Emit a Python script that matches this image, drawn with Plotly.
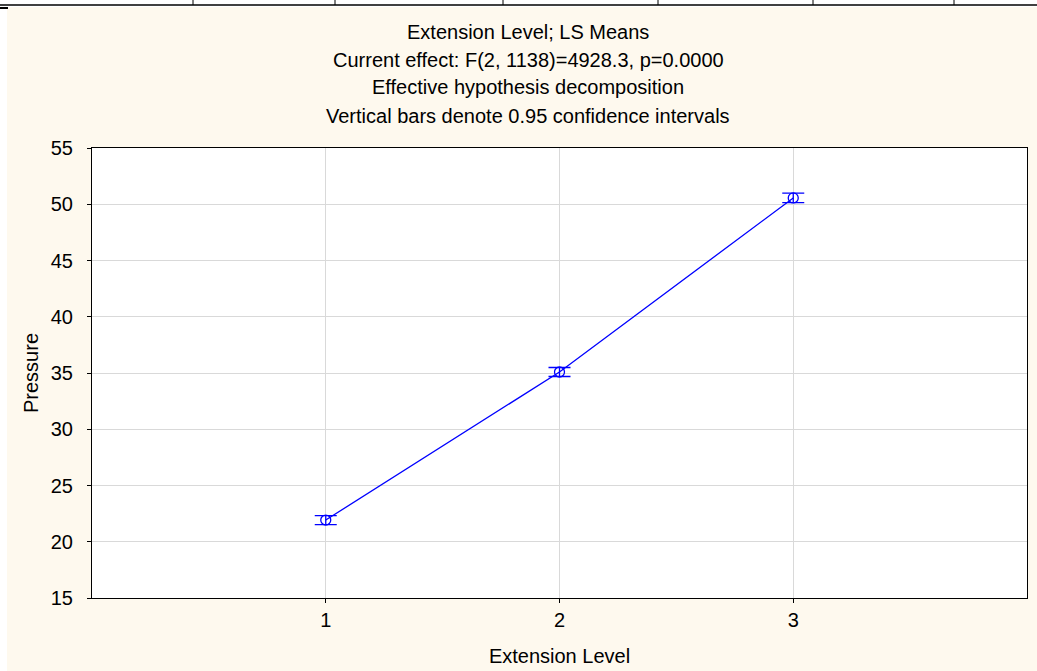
import plotly.graph_objects as go

levels = [1, 2, 3]
means = [21.93, 35.09, 50.56]
ci = [0.40, 0.40, 0.42]
titles = ["Extension Level; LS Means",
          "Current effect: F(2, 1138)=4928.3, p=0.0000",
          "Effective hypothesis decomposition",
          "Vertical bars denote 0.95 confidence intervals"]
y_ticks = [15, 20, 25, 30, 35, 40, 45, 50, 55]

FONT = "Liberation Sans"
FS = 20
L, R, T, B = 92, 10, 148, 73
W, H = 1037, 671
pw, ph = W - L - R, H - T - B

def px(x):
    return (x - L) / pw

def py(y):
    return (H - B - y) / ph

fig = go.Figure()
fig.add_trace(go.Scatter(
    x=levels, y=means, mode="lines+markers",
    line=dict(color="#0000FF", width=1.3),
    marker=dict(symbol="circle-open", size=10, color="#0000FF", line=dict(width=1.3)),
    error_y=dict(type="data", array=ci, color="#0000FF", thickness=1.3, width=11),
    showlegend=False))

shapes = [
    # white strips along top and left edge (outside the cream page)
    dict(type="rect", xref="paper", yref="paper", x0=px(-5), x1=px(W + 5), y0=py(7), y1=py(-5),
         fillcolor="white", line=dict(width=0), layer="below"),
    dict(type="rect", xref="paper", yref="paper", x0=px(-5), x1=px(7), y0=py(H + 5), y1=py(-5),
         fillcolor="white", line=dict(width=0), layer="below"),
    dict(type="line", xref="paper", yref="paper", x0=px(0), x1=px(W), y0=py(5), y1=py(5),
         line=dict(color="black", width=1.5)),
    dict(type="line", xref="paper", yref="paper", x0=px(0), x1=px(8), y0=py(8), y1=py(8),
         line=dict(color="black", width=2)),
]
for xv in [193, 335, 503, 658, 813, 954]:
    shapes.append(dict(type="line", xref="paper", yref="paper", x0=px(xv), x1=px(xv), y0=py(0), y1=py(5),
                       line=dict(color="black", width=1)))

annotations = []
for t, yy in zip(titles, [32, 60, 87, 116]):
    annotations.append(dict(text=t, xref="paper", yref="paper", x=px(528), y=py(yy),
                            xanchor="center", yanchor="middle", showarrow=False,
                            font=dict(family=FONT, size=FS, color="black")))

fig.update_layout(
    width=W, height=H,
    margin=dict(l=L, r=R, t=T, b=B, autoexpand=False),
    paper_bgcolor="#FEF9EE", plot_bgcolor="white",
    font=dict(family=FONT, size=FS, color="black"),
    shapes=shapes, annotations=annotations,
    xaxis=dict(range=[0, 4], tickvals=levels, ticktext=[str(v) for v in levels],
               showgrid=True, gridcolor="#D9D9D9", gridwidth=1, automargin=False,
               showline=True, linecolor="black", linewidth=1, mirror=True,
               ticks="outside", ticklen=4, tickcolor="black", zeroline=False,
               ticklabelstandoff=0,
               title=dict(text="Extension Level", standoff=18, font=dict(size=FS))),
    yaxis=dict(range=[15, 55], tickvals=y_ticks, automargin=False,
               showgrid=True, gridcolor="#D9D9D9", gridwidth=1,
               showline=True, linecolor="black", linewidth=1, mirror=True,
               ticks="outside", ticklen=4, tickcolor="black", zeroline=False,
               ticklabelstandoff=10,
               title=dict(text="Pressure", standoff=6, font=dict(size=FS))),
)

fig.write_html("out.html")
